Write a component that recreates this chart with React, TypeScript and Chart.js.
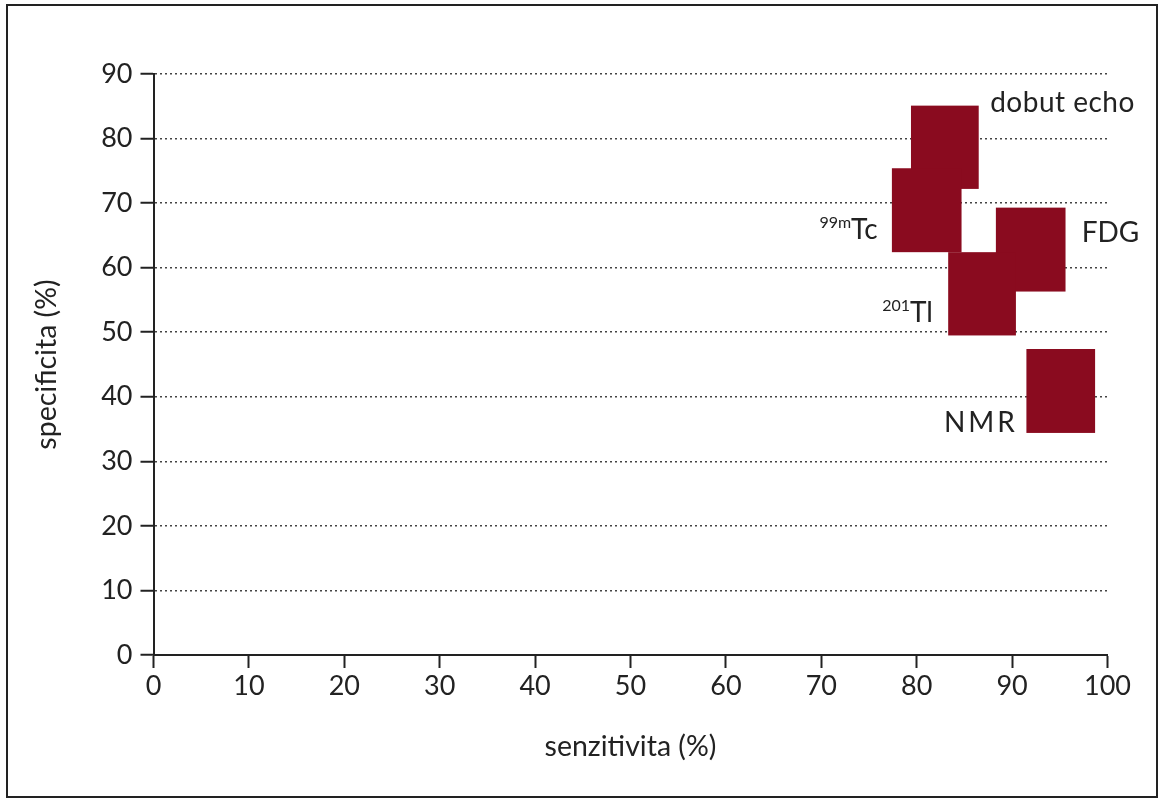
import React, { useEffect, useRef } from "react";
import { Chart, registerables } from "chart.js";

Chart.register(...registerables);

// Methods (rectangles = sensitivity range × specificity range)
const methods = ["dobut echo", "99mTc", "FDG", "201Tl", "NMR"];
const sensMin = [79.4, 77.4, 88.3, 83.3, 91.5];
const sensMax = [86.5, 84.7, 95.6, 90.4, 98.7];
const specMin = [72.2, 62.4, 56.3, 49.5, 34.4];
const specMax = [85.1, 75.4, 69.3, 62.4, 47.4];

// Label annotations
const labelMain = ["dobut echo", "Tc", "FDG", "Tl", "NMR"];
const labelSup = ["", "99m", "", "201", ""];
const labelX = [87.7, 75.9, 97.3, 81.7, 90.6];
const labelY = [84.1, 64.5, 64.0, 51.6, 34.6];
const labelAlign = ["left", "right", "left", "right", "right"];
const labelSpacing = [0.5, 0, 0, 0, 3];

const xTitle = "senzitivita (%)";
const yTitle = "speci\u200Cficita (%)";

const FONT = "Lato";
const RECT_COLOR = "#8a0b1f";
const TEXT_COLOR = "#222";

const rectPlugin = {
  id: "rects",
  beforeDatasetsDraw(chart: any) {
    const { ctx, scales } = chart;
    const xs = scales.x;
    const ys = scales.y;
    ctx.save();
    ctx.fillStyle = RECT_COLOR;
    for (let i = 0; i < methods.length; i++) {
      const x1 = xs.getPixelForValue(sensMin[i]);
      const x2 = xs.getPixelForValue(sensMax[i]);
      const y1 = ys.getPixelForValue(specMax[i]);
      const y2 = ys.getPixelForValue(specMin[i]);
      ctx.fillRect(x1, y1, x2 - x1, y2 - y1);
    }
    ctx.restore();
  },
  afterDraw(chart: any) {
    const { ctx, scales } = chart;
    const xs = scales.x;
    const ys = scales.y;
    ctx.save();
    ctx.fillStyle = TEXT_COLOR;
    ctx.textBaseline = "alphabetic";
    for (let i = 0; i < labelMain.length; i++) {
      const px = xs.getPixelForValue(labelX[i]);
      const py = ys.getPixelForValue(labelY[i]);
      ctx.font = `28px ${FONT}`;
      (ctx as any).letterSpacing = `${labelSpacing[i]}px`;
      const mainW = ctx.measureText(labelMain[i]).width;
      ctx.font = `16px ${FONT}`;
      (ctx as any).letterSpacing = "0px";
      const supW = labelSup[i] ? ctx.measureText(labelSup[i]).width : 0;
      let startX = labelAlign[i] === "left" ? px : px - mainW - supW;
      ctx.textAlign = "left";
      if (labelSup[i]) {
        ctx.font = `16px ${FONT}`;
        ctx.fillText(labelSup[i], startX, py - 10.5);
      }
      ctx.font = `28px ${FONT}`;
      (ctx as any).letterSpacing = `${labelSpacing[i]}px`;
      ctx.fillText(labelMain[i], startX + supW, py);
      (ctx as any).letterSpacing = "0px";
    }
    ctx.restore();
  },
};

export default function App() {
  const ref = useRef<HTMLCanvasElement>(null);
  useEffect(() => {
    if (!ref.current) return;
    const chart = new Chart(ref.current, {
      type: "scatter",
      data: {
        datasets: [
          {
            label: "methods",
            data: methods.map((_, i) => ({
              x: (sensMin[i] + sensMax[i]) / 2,
              y: (specMin[i] + specMax[i]) / 2,
            })),
            pointRadius: 0,
            pointHoverRadius: 0,
          },
        ],
      },
      options: {
        responsive: false,
        animation: false,
        events: [],
        layout: { padding: { left: 0, right: 55.5, top: 74, bottom: 0 } },
        plugins: {
          legend: { display: false },
          tooltip: { enabled: false },
        },
        scales: {
          x: {
            type: "linear",
            min: 0,
            max: 100,
            ticks: {
              stepSize: 10,
              color: TEXT_COLOR,
              font: { family: FONT, size: 27 },
              padding: 2,
              maxRotation: 0,
            },
            grid: {
              drawOnChartArea: false,
              drawTicks: true,
              tickLength: 13,
              tickColor: TEXT_COLOR,
              tickWidth: 2,
            },
            border: { display: true, color: TEXT_COLOR, width: 2 },
            title: {
              display: true,
              text: xTitle,
              color: TEXT_COLOR,
              font: { family: FONT, size: 28.5 },
              padding: { top: 0, bottom: 36 },
            },
            afterFit: (scale: any) => {
              scale.height = 145;
            },
          },
          y: {
            type: "linear",
            min: 0,
            max: 90,
            ticks: {
              stepSize: 10,
              color: TEXT_COLOR,
              font: { family: FONT, size: 27 },
              padding: 8,
            },
            grid: {
              drawOnChartArea: true,
              drawTicks: true,
              tickLength: 13,
              color: "#444",
              lineWidth: 1.5,
              tickColor: TEXT_COLOR,
              tickWidth: 2,
            },
            border: { display: true, color: TEXT_COLOR, width: 2, dash: [2, 3] },
            title: {
              display: true,
              text: yTitle,
              color: TEXT_COLOR,
              font: { family: FONT, size: 28.5 },
              padding: { top: 30, bottom: 0 },
            },
            afterFit: (scale: any) => {
              scale.width = 153.5;
            },
          },
        },
      },
      plugins: [rectPlugin],
    });
    return () => chart.destroy();
  }, []);

  return (
    <div style={{ position: "absolute", left: 0, top: 0, width: 1163, height: 800, background: "#fff" }}>
      <canvas ref={ref} width={1163} height={800} style={{ position: "absolute", left: 0, top: 0, width: 1163, height: 800 }} />
      <div
        style={{
          position: "absolute",
          left: 6,
          top: 4,
          width: 1152,
          height: 794,
          boxSizing: "border-box",
          border: "2px solid #222",
          pointerEvents: "none",
        }}
      />
    </div>
  );
}
